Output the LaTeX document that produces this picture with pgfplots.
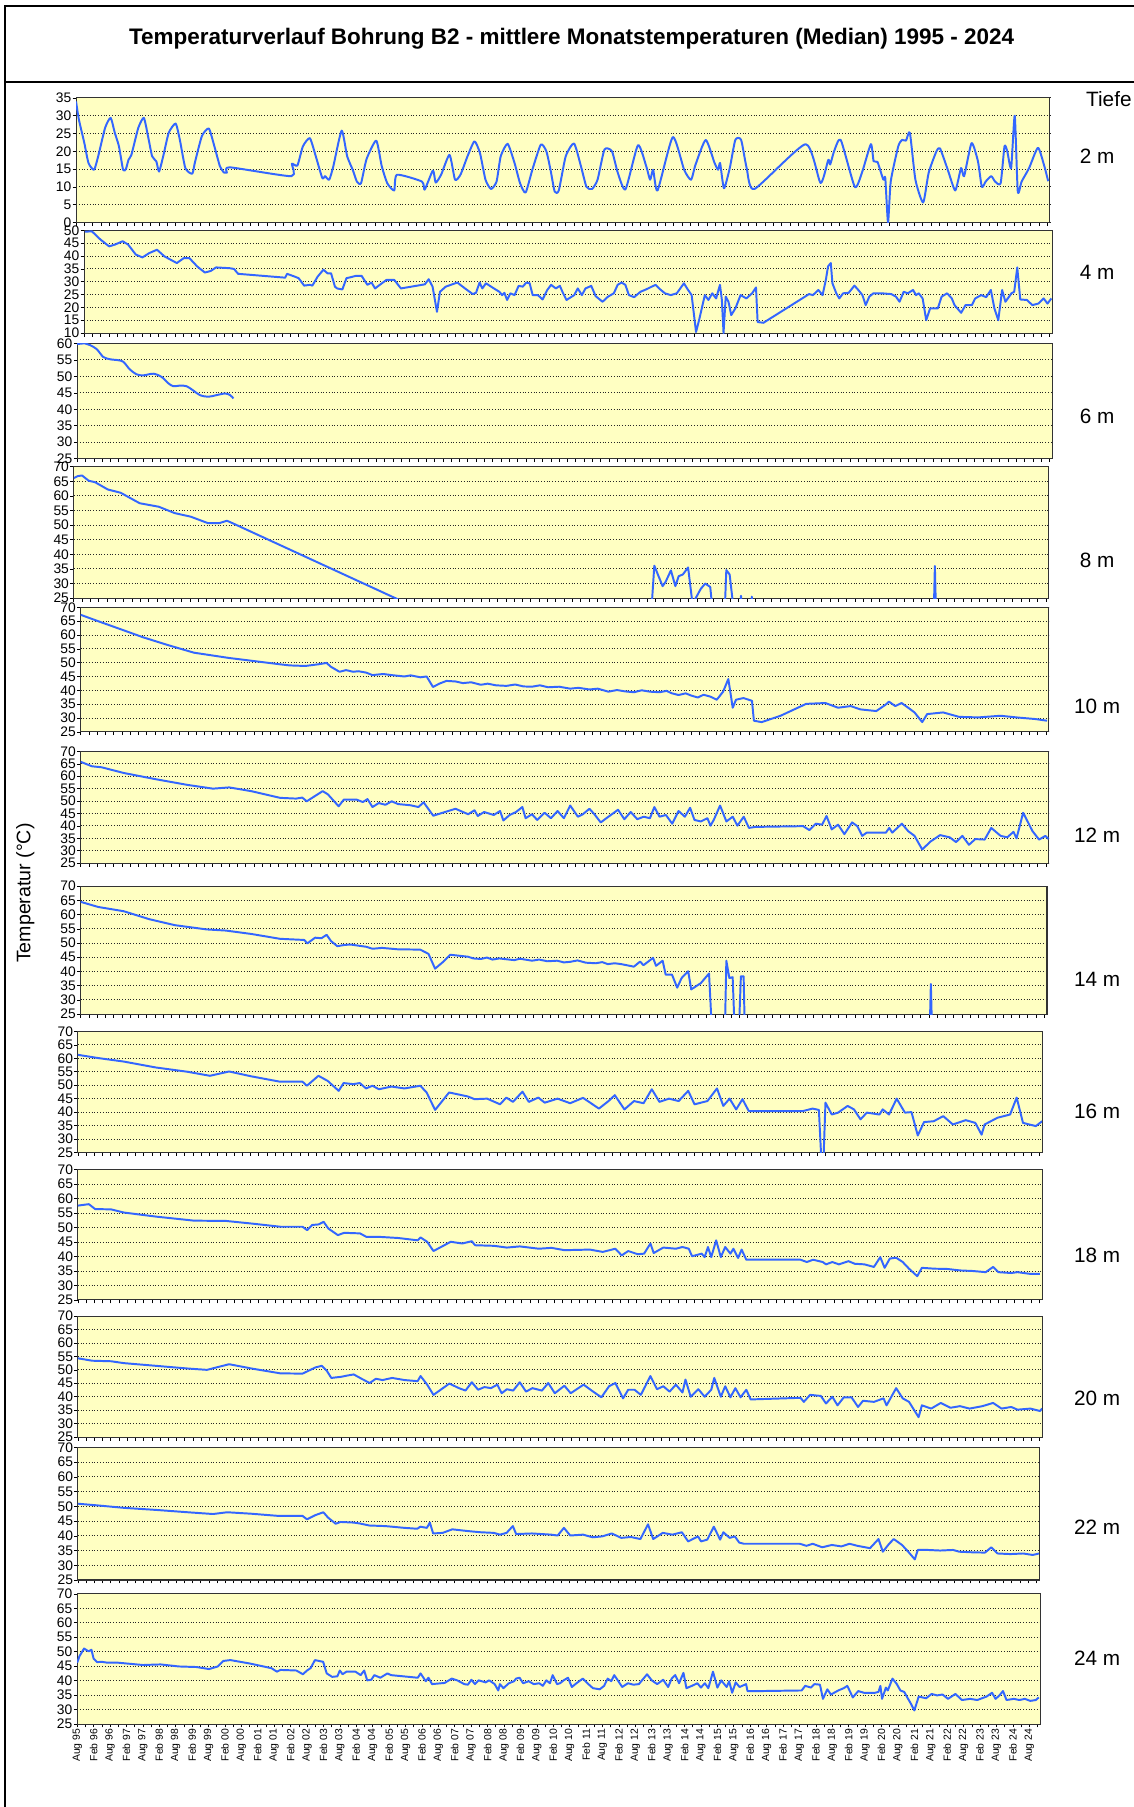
\documentclass[border=0pt]{standalone}
\usepackage{fontspec}
\setmainfont{Liberation Sans}
\usepackage{pgfplots}
\pgfplotsset{compat=1.18}
\definecolor{bgy}{RGB}{255,255,194}
\definecolor{lb}{RGB}{51,102,255}
\pgfplotsset{
 panel/.style={
  scale only axis, anchor=north west,
  xmin=0, xmax=352,
  xtick={0,6,...,348}, minor xtick={3,9,...,351}, xticklabels={},
  xtick pos=bottom, ytick pos=left,
  tick align=outside, major tick length=3pt, minor tick length=3pt,
  tick style={black, line width=0.5pt},
  ymajorgrids, grid style={dotted, line width=0.8pt, black!85},
  axis background/.style={fill=bgy},
  axis line style={black!80, line width=0.9pt},
  yticklabel style={font=\fontsize{12}{12}\selectfont, inner sep=0.5pt, xshift=-0.5pt},
  /pgf/number format/assume math mode=true,
 },
 ser/.style={lb, line width=1.7pt, line join=round, mark=none},
}
\begin{document}
\begin{tikzpicture}
\path[use as bounding box] (0pt,0pt) rectangle (984pt,-1568pt);
\draw[line width=1.6pt] (4.5pt,-1568pt) -- (4.5pt,-5.5pt) -- (984pt,-5.5pt);
\draw[line width=1.6pt] (4.5pt,-71.5pt) -- (984pt,-71.5pt);
\node[font=\fontsize{19.5}{21}\selectfont\bfseries] at (496pt,-34pt) {Temperaturverlauf Bohrung B2 - mittlere Monatstemperaturen (Median) 1995 - 2024};
\node[font=\fontsize{18}{18}\selectfont, anchor=west] at (939pt,-86pt) {Tiefe};
\node[font=\fontsize{17}{17}\selectfont, rotate=90] at (22pt,-775pt) {Temperatur (°C)};
\foreach \lab/\yy in {2 m/136, 4 m/236, 6 m/361, 8 m/486, 10 m/613, 12 m/725, 14 m/850, 16 m/964, 18 m/1089, 20 m/1213, 22 m/1325, 24 m/1439}{
 \node[font=\fontsize{18}{18}\selectfont] at (952pt,-\yy pt) {\lab};
}

% 2 m
\begin{axis}[panel, at={(66pt,-85pt)}, width=845pt, height=108pt, ymin=0, ymax=35, ytick={0,5,...,35}]
\addplot[ser, smooth, tension=0.35] coordinates {(0,34)(1,29)(3,22.3)(4.5,16.7)(6.5,14.8)(8,18.6)(10.5,26.6)(12.5,29.4)(14,25.2)(15.5,21.4)(17,14.8)(18,15)(19,17.7)(20,19)(22.5,26.6)(24.5,29.4)(26,24.3)(27.5,18.6)(29,17.2)(30,14.3)(31.5,18.6)(33.5,25.2)(36,27.8)(37.5,23.3)(39.5,15.3)(42,13.7)(43,17)(45.5,24.3)(48,26.4)(50,21.4)(52,15.8)(53.5,14)(54.5,14)(55.5,15.5)(77.8,13)(78,16.5)(80,16)(82,21.4)(84.5,23.7)(86.5,19)(89,12.5)(90,13)(91.5,12)(93,15.8)(96,25.8)(98,18.6)(100,14.8)(101.5,11.5)(103,11)(105,17.8)(108.5,23)(110.5,15.8)(112.5,11)(115,9)(116,13.4)(125,11.5)(126,9.2)(129,14.6)(130,11.2)(132,13.5)(135,19)(137,12)(139,13.5)(141.5,18.6)(144,22.8)(146,19.5)(148,12)(150,9.4)(152,11.5)(153.5,18.6)(156,22.1)(158.5,16.7)(160.5,11)(162.5,8.4)(165,15)(168,21.9)(170,20)(171.5,14.8)(173,8.7)(174.5,9)(177,18.6)(180,22.2)(182.5,15.8)(184.5,10)(186.5,9.4)(188.5,12)(191,20.5)(193.7,20)(195.8,14)(198.6,9.3)(203.1,21.7)(206.1,15.8)(207.5,12)(208.6,14.8)(210.2,9)(215.7,24)(219.8,14.8)(222.3,12)(223.9,16.2)(227.6,23.2)(230.8,16.7)(232.1,14.8)(232.8,16.7)(234.2,9.6)(236.3,15.3)(238.3,23.2)(240.4,23.2)(242.4,15.3)(245.2,9.4)(263.7,22)(269.1,11.1)(271.9,17.6)(272.6,16.3)(274,20)(276.4,23.2)(281.5,10)(284.2,14.3)(287.3,22)(288.3,17.2)(289.7,17)(291.8,12)(292.5,12.5)(293.5,0)(294.5,11.6)(297.2,21.4)(298.6,23.2)(300,23)(301.4,25.2)(303.4,12)(306.2,5.6)(308.2,14)(311,20)(312.3,20.8)(315.1,14.8)(317.8,9)(319.9,15.3)(321,13)(323.7,22.3)(326,17.2)(327.4,10)(328.8,11.5)(330.8,13)(332.2,11.5)(334.2,11)(335.6,21.4)(336.6,20)(338,15.3)(339.3,30)(340.4,8.7)(341.8,11.5)(344.5,15.3)(347.7,21)(350,15.8)(351.4,11.6)};
\end{axis}

% 4 m
\begin{axis}[panel, at={(73pt,-200pt)}, width=840pt, height=89pt, ymin=10, ymax=50, ytick={10,15,...,50}]
\addplot[ser] coordinates {(0.3,49.5)(2.8,49.7)(5.9,46.5)(9.1,43.8)(11.2,44.5)(14,45.8)(16,44.5)(18.8,40.6)(21.2,39.5)(23.7,41.2)(26.5,42.5)(29.2,39.9)(33.7,37.3)(36.2,39.2)(38.3,39.2)(41.1,36)(43.9,33.6)(46,34.2)(48,35.6)(52.9,35.3)(54.5,35)(56,33.1)(73.1,31.6)(73.8,33.1)(76.6,32)(78,31.4)(80,28.5)(82.1,28.8)(83,28.5)(84.9,32)(87,34.7)(88.5,33.3)(89.8,33.3)(91.2,28.1)(92,27.4)(93.9,27)(95.4,31.4)(97,31.8)(98.8,32.3)(100.9,32.3)(103,28.8)(104.5,29.7)(105.8,27.4)(107.5,28.8)(109.9,30.7)(112.8,30.7)(115.2,27.4)(123.9,29)(125.3,31)(126.7,28.1)(128.3,18.3)(129.4,26.1)(131.5,28.1)(135.7,29.7)(138.5,27.4)(141.3,25.2)(142.5,25.7)(143.8,29.7)(144.8,27.4)(146.1,29.4)(149,27.4)(151,26.1)(152,24.8)(152.8,25.7)(153.8,22.9)(155,25.5)(156.5,24.8)(158,28.4)(159.5,28.1)(160.8,29.7)(162,29.4)(163.1,24.8)(165,24.8)(166.7,23.1)(168.4,26.8)(169.8,28.8)(171.5,27.4)(173,28.4)(174,25.9)(175.4,22.9)(178.2,24.8)(179.5,27.4)(181,24.8)(182.3,27.4)(184.4,28.4)(186,24.4)(188.5,22.2)(190.5,24.2)(192.6,25.5)(194,28.8)(195.4,29.7)(196.8,28.8)(198.1,24.8)(200,24)(202.3,26.1)(204.3,27)(206.4,28.1)(207.8,28.8)(209.5,27)(211.2,25.5)(213.3,24.8)(215.5,25.5)(218.1,29.4)(219.5,27)(220.9,24.8)(222.5,10.4)(223.6,15)(225.7,24.8)(227,22.9)(228.4,25.5)(229.8,23.5)(231.2,28.8)(231.9,22.9)(232.5,10)(233.3,24.2)(234.3,22.2)(235.3,17)(236.8,19.6)(238.7,24.8)(240.8,23.5)(242.9,25.5)(244.3,27.8)(244.9,14.3)(247,14)(263.6,25.2)(265,24.8)(267,26.8)(268.5,24.8)(269.7,30.7)(270.5,36)(271.5,37.3)(272.1,29.4)(273.5,25.5)(274.6,23.5)(276,25.5)(278,25.7)(280.1,28.5)(281.5,26.8)(283,24.8)(284.2,20.9)(285.5,24.2)(287,25.5)(290,25.5)(293.5,25.2)(295.2,24.2)(296.5,22.2)(298,26.1)(299.5,25.5)(301.4,26.8)(302.5,24.8)(303.5,25.5)(304.9,23.5)(306.2,15)(307.6,19.6)(310.4,19.6)(311.8,24.2)(313.8,25.5)(315.5,23.5)(316.5,20.9)(318.9,17.9)(320.5,20.9)(322.8,20.9)(324,23.5)(326.2,24.8)(328,24)(329.7,26.8)(331,19.6)(332.4,15)(333.8,26.8)(335,22.2)(337.2,25.5)(338.2,26.1)(339.3,35.6)(340.4,23.1)(342.8,22.9)(344.8,20.9)(347,21.5)(348.9,23.5)(350.3,21.5)(351.7,23.5)};
\end{axis}

% 6 m
\begin{axis}[panel, at={(67pt,-298pt)}, width=846pt, height=100pt, ymin=25, ymax=60, ytick={25,30,...,60}]
\addplot[ser, smooth, tension=0.5] coordinates {(0,59.8)(2.8,60)(4.6,59.5)(7,58.3)(9.4,55.9)(11.8,55.2)(14.8,54.9)(16.7,54.4)(19,52.1)(21.5,50.6)(23.9,50.3)(27.5,50.8)(30.5,49.8)(32.9,47.9)(34.7,47)(37.1,47.2)(39.5,47)(41.9,45.7)(44.3,44.3)(47.3,43.8)(50.3,44.3)(53.4,44.8)(55.2,44.3)(56.4,43.3)};
\end{axis}

% 8 m
\begin{axis}[panel, at={(64pt,-405pt)}, width=846pt, height=114pt, ymin=25, ymax=70, ytick={25,30,...,70}]
\addplot[ser] coordinates {(0,66.1)(1.5,66.8)(3,67)(5.4,65.2)(7.7,64.7)(12.3,62.2)(16.9,61.1)(23.8,57.5)(30.7,56.3)(36.5,54.1)(42.2,52.9)(48.4,50.7)(52.6,50.7)(55.3,51.5)(57.7,50.5)(117,24.6)(130,18.9)(208.5,20)(209.6,36.1)(212.6,29.1)(213.7,30.6)(215.6,34.5)(217.2,29.1)(218.4,32.5)(219.9,33.1)(221.8,35.5)(223.4,23)(226.4,28.2)(228,30)(229.8,28.8)(230.3,24)(231,20)(235,20)(235.6,34.6)(236.8,33.1)(237.9,24)(238.5,20)(240.5,20)(240.9,25.8)(241.4,20)(244.5,20)(244.8,25.5)(245.2,20)(310.5,20)(310.9,36)(311.3,20)(352,20)};
\end{axis}

% 10 m
\begin{axis}[panel, at={(70pt,-527pt)}, width=840pt, height=108pt, ymin=25, ymax=70, ytick={25,30,...,70}]
\addplot[ser] coordinates {(0,67.3)(5.2,65.4)(14.5,62.1)(22.6,59.2)(31.9,56.3)(41.2,53.6)(53.9,51.7)(72.5,49.4)(76,49)(81.7,48.8)(86.4,49.4)(89.4,49.9)(91,48.5)(94.1,46.7)(96.5,47.3)(99.1,46.7)(101,46.9)(103.8,46.4)(106.1,45.5)(110,45.9)(113,45.5)(117.7,45)(120,45.4)(123.5,44.7)(125.8,45)(128.1,41.2)(130.4,42.4)(133,43.4)(136.3,43.2)(139,42.6)(142,42.9)(145.5,42)(148,42.4)(151,41.8)(154.8,41.6)(158,42.1)(161,41.4)(164.1,41.3)(167,41.8)(170,41.1)(174,41.3)(178,40.6)(181,40.9)(185,40.3)(188,40.6)(191.9,39.5)(195,40.1)(198,39.6)(201.2,39.3)(204,40)(207,39.5)(210.5,39.3)(213,39.8)(215,38.9)(217.4,38.3)(220,38.9)(222,38.1)(224.4,37.4)(226.5,38.4)(229,37.7)(231.3,36.6)(233.6,39.5)(235.5,44.1)(237.1,33.7)(238.3,36.6)(241,37.2)(244.1,36.2)(244.8,29)(247.6,28.5)(254.5,30.8)(263.8,35.1)(270.8,35.4)(275.4,33.7)(280,34.3)(283.5,33.1)(289.3,32.5)(292.7,34.8)(293.9,35.9)(296.2,34.3)(298.5,35.4)(300.9,33.7)(303.2,32)(306,28.5)(307.8,31.4)(313.6,32)(319.4,30.4)(326.4,30.2)(334.5,30.8)(340.3,30.2)(347.2,29.6)(351.4,29)};
\end{axis}

% 12 m
\begin{axis}[panel, at={(70pt,-652pt)}, width=840pt, height=97pt, ymin=25, ymax=70, ytick={25,30,...,70}]
\addplot[ser] coordinates {(0,65.8)(4.1,64)(7.6,63.6)(15.7,61.3)(27.3,58.8)(38.9,56.5)(48.1,55)(54,55.5)(62,54)(72.5,51.3)(78.3,51)(80.6,51.4)(82.2,49.9)(85.3,52.1)(88,54)(89.9,52.7)(93.8,47.9)(95.7,50.6)(100.3,50.6)(102.6,49.6)(104.3,50.8)(106.1,47.6)(108.4,49.2)(110.8,48.5)(113.1,49.9)(115.4,48.8)(120,48.3)(122.8,47.6)(124.7,49.5)(128.2,44.1)(131.6,45.3)(136.3,46.9)(140.9,44.7)(143.2,46.3)(144.4,44)(146.7,45.6)(150.2,44.4)(152.5,46)(153.7,42.2)(156,44.4)(158.3,45.6)(160.6,47.6)(161.8,43.1)(164.1,44.7)(166,42.4)(168.7,45.3)(171,43.1)(173.4,46)(175.7,43.1)(178,48.2)(180.8,43.7)(182.6,44.7)(185,46.9)(186.8,44.7)(189.1,41.4)(191.9,43.7)(195.4,46.5)(197.7,42.7)(200,45.6)(202.4,42.7)(204.7,43.7)(207,43.1)(208.6,47.6)(210.5,43.7)(212.8,44.4)(215.1,40.9)(217.4,46)(219.7,43.7)(221.6,47.3)(223.2,42.4)(225.5,41.8)(227.9,43.1)(229,40.1)(230.2,42.4)(232.5,48.2)(234.8,41.8)(237.1,43.7)(238.8,40.1)(241.1,43.7)(243,39.2)(245.3,39.6)(262.7,39.9)(265,38.3)(267.3,40.9)(269.6,40.5)(271.2,44)(273.1,38.6)(275.4,40.5)(277.7,36.7)(280.5,41.4)(282.4,39.9)(284.2,36)(285.8,37.3)(289.3,37.3)(292.8,37.3)(294,39.2)(295.1,37.3)(298.6,40.9)(300.9,37.9)(303.2,36)(306,30.5)(309,33.7)(312.5,36.3)(316,35.4)(318.3,33.5)(320.6,36)(323,32.4)(325.3,34.7)(328.7,34.5)(331.1,39.2)(334.5,36)(336.9,35.4)(339.2,37.6)(340.3,35)(342.7,45.3)(346.1,37.9)(348.5,34.5)(350.8,36)(352,34.7)};
\end{axis}

% 14 m
\begin{axis}[panel, at={(70pt,-769pt)}, width=838.5pt, height=111pt, ymin=25, ymax=70, ytick={25,30,...,70}]
\addplot[ser] coordinates {(0,64.5)(6.4,62.7)(15.7,61.2)(25,58.4)(34.3,56.3)(45.9,54.8)(52.9,54.4)(62.2,53.2)(72.6,51.5)(81.4,51.1)(82.6,49.9)(85.4,51.9)(87.7,51.7)(89.6,52.9)(91.2,50.7)(93.5,48.9)(95.8,49.3)(98.2,49.5)(104,48.7)(106.3,48)(109.8,48.3)(115.6,47.8)(123.7,47.7)(124.9,47.1)(126.7,46.2)(129.1,41)(131.8,43.2)(134.6,45.9)(141.1,45.2)(143,44.6)(145.8,44.4)(148,44.9)(150,44.2)(152.5,44.6)(155.1,44.3)(158,44)(160,44.5)(164.4,43.8)(167,44.2)(170,43.6)(173.6,43.8)(176,43.2)(178.3,43.4)(181,43.9)(184,43.1)(187.6,42.9)(190,43.3)(192,42.6)(194.5,42.9)(196.9,42.6)(201.5,41.7)(203.8,43.5)(205,42.2)(208.5,44.8)(209.6,42)(212,43.8)(213.1,38.9)(215.4,38.9)(217.3,34.3)(218.9,37.7)(221.3,40.1)(222.4,33.7)(225.9,35.9)(228.9,39.3)(229.9,20)(234.7,20)(235.2,43.8)(236.3,37.7)(237.5,38)(238.2,20)(239.8,20)(240.5,38.3)(241.5,38.3)(241.9,20)(309.3,20)(309.7,35.6)(310.1,20)(352,20)};
\end{axis}

% 16 m
\begin{axis}[panel, at={(67.6pt,-895pt)}, width=836.7pt, height=105pt, ymin=25, ymax=70, ytick={25,30,...,70}]
\addplot[ser] coordinates {(0,61.3)(7.4,60.1)(16.7,58.8)(28.4,56.6)(40,55)(48.2,53.5)(55.2,55.1)(63.3,53.3)(73.8,51.3)(82,51.3)(83.6,49.8)(87.8,53.5)(91.2,51.6)(95.2,47.9)(97,50.8)(100.5,50.4)(102.9,50.8)(105.2,48.8)(107.5,49.8)(109.9,48.5)(114.5,49.5)(119.2,48.8)(125,49.8)(127.3,47.3)(130.4,40.8)(135.5,47.3)(142.4,45.8)(144.8,44.8)(149.4,45)(154.1,42.9)(156.4,45.4)(158.8,43.8)(162.3,47.6)(164.6,43.8)(168.1,45.4)(170.4,43.5)(175.1,45)(179.7,43.3)(184.4,45.3)(190.2,41.3)(193.7,44.1)(196,46.3)(199.5,41)(203,44.1)(206.5,43.3)(209.5,48.5)(212.3,43.8)(215.8,45)(219.3,44.1)(222.8,47.9)(225.1,42.9)(229.8,44.1)(233.3,48.8)(235.6,42.3)(237.9,45)(240.3,41)(242.6,44.8)(244.9,40.4)(247,40.4)(264.7,40.4)(268.2,41.3)(270.5,40.8)(271.5,20)(272.1,20)(272.9,43.5)(275.2,39.1)(277.5,39.8)(281,42.3)(283.3,41)(285.7,37.3)(288,39.8)(292.6,39.1)(293.8,41)(296.1,39.1)(298.9,45)(301.9,39.8)(304.3,40)(306.6,31.3)(308.9,36.3)(312.4,36.6)(315.9,38.5)(319.4,35.4)(324.1,37)(327.6,36)(329.9,31.6)(331,35.4)(335.7,37.9)(340.3,39.1)(342.7,45.4)(345,36)(347.3,35.4)(349.7,34.8)(352,36.6)};
\end{axis}

% 18 m
\begin{axis}[panel, at={(67.6pt,-1015pt)}, width=836.7pt, height=113pt, ymin=25, ymax=70, ytick={25,30,...,70}]
\addplot[ser] coordinates {(0,57.6)(4,58.1)(6.3,56.4)(12.1,56.3)(16.8,55.2)(28.5,53.8)(42.4,52.4)(54.1,52.3)(63.4,51.4)(73.9,50.3)(82,50.3)(83.7,49.1)(85.5,50.9)(87.9,51.1)(89.7,52)(91.4,49.7)(94.9,47.4)(97.2,48.2)(103,48)(105.3,46.8)(110,46.8)(117,46.4)(124,45.6)(125.1,46.6)(127.5,45.1)(129.8,41.9)(136.1,45.1)(140.3,44.5)(143.8,45.3)(145,43.9)(151.9,43.7)(156.6,43.1)(161.3,43.5)(168.3,42.7)(172.9,43)(177.6,42.2)(186.9,42.4)(191.6,41.6)(196.2,42.7)(198.5,40.4)(200.9,41.9)(204.4,40.8)(206.7,41)(209,44.5)(210.2,41.2)(213.7,43.1)(218.3,42.7)(220.7,43.3)(223,42.7)(224.2,40.1)(227.7,41)(228.8,39.8)(230,43.3)(231.2,39.8)(233,45.6)(234.7,39.8)(236.3,43.3)(238.2,41)(239.3,42.7)(241,39.5)(242.3,42.4)(244,38.9)(246.3,38.9)(263.8,38.9)(266.1,38.1)(268.4,38.9)(271.9,38.1)(273.1,37.3)(275.4,38.1)(277.8,37.3)(281.3,38.4)(283.6,37.5)(287.1,37.3)(290.6,36.4)(292.9,39.8)(294.5,36.1)(296.4,39.3)(298.7,39.6)(301.1,38.1)(303.4,35.8)(306.4,33.2)(308.1,36.1)(312.7,35.8)(317.4,35.7)(322,35.2)(326.7,35)(331.4,34.6)(334.1,36.4)(336,34.6)(340.7,34.3)(343,34.6)(347.7,34)(351.2,34)};
\end{axis}

% 20 m
\begin{axis}[panel, at={(67.6pt,-1142pt)}, width=836.7pt, height=105pt, ymin=25, ymax=70, ytick={25,30,...,70}]
\addplot[ser] coordinates {(0,54.3)(5.2,53.4)(12.1,53.2)(16.8,52.5)(28.5,51.5)(40.1,50.5)(47.1,50)(55.2,52.1)(63.4,50.5)(73.9,48.7)(82,48.6)(86.7,50.9)(89,51.5)(90.9,49.6)(92.5,47)(96,47.4)(98.4,47.9)(100.7,48.3)(103,47)(106.5,45.1)(108.8,46.7)(111.2,46.2)(114.7,47)(119.3,46.2)(124,45.8)(125.1,47.7)(127.5,44.5)(129.8,40.7)(135.6,44.9)(139.1,43.2)(141.5,42.3)(143.8,45.4)(146.1,42.6)(148.4,43.6)(150.8,43.2)(153.1,44.5)(154.7,41.3)(156.6,42.8)(158.9,42.3)(161.3,45.4)(163.6,41.9)(165.9,43.2)(169.4,42.3)(171.7,45.1)(174.1,41.3)(177.6,44.1)(179.9,41.3)(184.6,44.5)(188.1,41.9)(191.1,39.8)(193.9,43.9)(196.2,45.1)(199,39.4)(200.9,42.6)(203.2,42.6)(205.5,40.7)(209,47.7)(211.4,42.8)(213.7,43.9)(216,41.9)(218.3,44.5)(220.7,41.6)(221.8,46.4)(223.7,40)(226.5,42.8)(228.8,40)(231.2,42.6)(232.3,47)(234.7,40)(236.3,43.9)(238.2,39.8)(240,43.2)(241.9,39.8)(244,42.6)(245.6,39)(263.8,39.6)(265,38.1)(267.3,40.7)(271.2,40.3)(273.1,37.5)(275.4,40)(277.3,36.8)(279.6,39.8)(282.4,39.8)(284.8,36.2)(286.6,38.5)(290.6,38.1)(294.1,39.4)(295.2,36.8)(298.7,43.2)(301.1,39.4)(303.4,38.1)(306.9,32.4)(308.1,36.8)(311.5,35.6)(315,37.7)(318.5,35.9)(322,36.5)(325.5,35.6)(330.2,36.5)(334.1,37.7)(337.2,35.6)(340.7,36.2)(343,35.2)(347.7,35.6)(351.2,34.7)(352,35.6)};
\end{axis}

% 22 m
\begin{axis}[panel, at={(67.6pt,-1256pt)}, width=834pt, height=115pt, ymin=25, ymax=70, ytick={25,30,...,70}]
\addplot[ser] coordinates {(0,50.9)(7.5,50.3)(16.8,49.5)(28.5,48.8)(40.2,48)(49.5,47.4)(54.7,48)(63.5,47.5)(72.9,46.8)(82.2,46.8)(83.9,45.6)(86.9,47)(89.9,48)(91.6,46.2)(94.4,44.1)(96.2,44.7)(100.9,44.5)(103.2,44.2)(106.7,43.5)(112.6,43.3)(119.6,42.7)(124.3,42.4)(125.4,43.1)(127.8,42.7)(128.9,44.5)(130.1,40.8)(133.6,41)(137.1,42.2)(142.9,41.6)(147.6,41.2)(152.3,41)(154.6,40.4)(157,41)(159.3,43.3)(160.5,40.6)(166.3,40.8)(173.3,40.4)(175.7,40.1)(178,42.7)(180.3,40.1)(185,40.4)(188.5,39.5)(192,39.8)(195.5,40.8)(199,39.3)(202.5,39.6)(206,38.9)(208.8,43.9)(210.7,38.9)(214.2,41)(217.7,40.4)(221.2,41.2)(223.5,38.1)(227.1,39.8)(228.2,38.1)(230.5,38.7)(232.9,43.1)(235.2,38.7)(236.4,41.2)(238.7,39.3)(240.6,39.8)(242.2,37.7)(243.9,37.3)(264.4,37.3)(266.8,36.6)(269.1,37.3)(272.6,36.1)(276.1,36.9)(279.6,36.4)(282.6,37.3)(285.5,36.6)(290.1,35.8)(293.2,38.9)(294.8,34.6)(297.1,37.3)(298.8,38.9)(301.8,36.9)(304.1,34.6)(306.5,32)(307.6,35.2)(311.2,35.2)(315.8,35)(320.5,35.2)(322.8,34.6)(327.5,34.4)(332.2,34.3)(334.5,36.1)(336.8,34)(341.5,33.8)(346.2,34)(349.7,33.5)(352,34)};
\end{axis}

% 24 m
\begin{axis}[panel, at={(67pt,-1383pt)}, width=835.6pt, height=113pt, ymin=25, ymax=70, ytick={25,30,...,70},
 xticklabels={Aug 95,Feb 96,Aug 96,Feb 97,Aug 97,Feb 98,Aug 98,Feb 99,Aug 99,Feb 00,Aug 00,Feb 01,Aug 01,Feb 02,Aug 02,Feb 03,Aug 03,Feb 04,Aug 04,Feb 05,Aug 05,Feb 06,Aug 06,Feb 07,Aug 07,Feb 08,Aug 08,Feb 09,Aug 09,Feb 10,Aug 10,Feb 11,Aug 11,Feb 12,Aug 12,Feb 13,Aug 13,Feb 14,Aug 14,Feb 15,Aug 15,Feb 16,Aug 16,Feb 17,Aug 17,Feb 18,Aug 18,Feb 19,Aug 19,Feb 20,Aug 20,Feb 21,Aug 21,Feb 22,Aug 22,Feb 23,Aug 23,Feb 24,Aug 24},
 xticklabel style={rotate=90, anchor=east, font=\fontsize{9}{9}\selectfont, inner sep=1pt}]
\addplot[ser] coordinates {(0,46.2)(0.8,48.4)(2.5,51.1)(4.2,50.1)(5.2,50.7)(6,47.6)(7.3,46.4)(9,46.5)(11,46.2)(14.9,46.2)(24,45.4)(30.5,45.6)(37.1,44.9)(43.6,44.7)(48.2,44)(51.4,44.9)(53.4,46.8)(56,47.1)(63.2,45.9)(71,44.3)(73,43.1)(74.3,43.7)(80.1,43.5)(82.5,42.2)(84,43.5)(85.3,44.3)(86.9,47.1)(89.9,46.5)(91.2,42.5)(93.2,41.3)(95.1,41.5)(96,43.5)(97,42.2)(98.4,43.1)(101.7,43.1)(103.6,41.9)(104.9,43.5)(106,40.1)(107.5,40.3)(108.6,41.9)(110.8,41)(113.4,42.5)(114.7,41.9)(124.5,41)(125.5,42.5)(127.4,39.8)(128.4,41)(129.7,38.8)(134.3,39.2)(136.9,40.7)(138.9,40.1)(141.5,38.8)(142.8,38.6)(144.1,40.3)(145.4,38.8)(146.7,40.1)(149.3,39.4)(150.6,40.1)(152.6,38.8)(153.9,36.6)(154.5,38.8)(155.8,37.4)(157.8,39.1)(159.7,39.8)(160.4,40.7)(161.7,41)(163,39.1)(165,39.8)(166.9,38.8)(168.9,39.1)(170.2,38.2)(171.5,40.1)(172.8,39.1)(173.8,41.9)(175.4,38.8)(176.5,39.1)(177.8,40.1)(179.4,41)(180.8,37.8)(182.5,39.1)(184.8,40.7)(186.5,39.1)(188.5,37.4)(191,37)(192.6,38.2)(193.9,40.7)(195.2,39.8)(196.3,41.9)(197.6,40.1)(199.2,37.8)(201.3,39.1)(203.3,38.6)(205.3,38.8)(208.3,42.2)(210,40.1)(212,38.8)(214.2,40.3)(216,37.8)(217.3,40.7)(218.6,41.9)(220,39.1)(221.6,42.7)(222.7,37.4)(224.7,38.2)(226.7,39.1)(228,37.6)(229.4,39.1)(230.7,37.4)(232.4,43.1)(234,37.6)(235.4,40.1)(237.4,37.8)(238.3,39.8)(239.4,35.8)(240.7,39.4)(242.1,37.8)(244.5,38.8)(245,36.4)(250.1,36.4)(264.8,36.6)(266.1,38.2)(268.2,37.6)(269.5,38.8)(271.5,38.6)(272.6,33.7)(274.2,37)(275.5,35.2)(278.2,36.6)(280.2,37.4)(281.5,38.2)(283.5,34.2)(285.5,36.4)(287.6,35.8)(291.6,35.8)(292.9,36.1)(293.6,38.2)(294.2,33.7)(295.6,37.6)(296.3,36.6)(298,40.7)(299.6,38.8)(300.9,36.6)(302.3,36.1)(303.6,33.9)(304.7,32.1)(306,29.7)(307.6,34.5)(310.3,33.9)(312.3,35.4)(314.3,34.9)(316.3,35.2)(318.3,33.7)(321,35.4)(323.4,33.3)(326.4,33.7)(329,33.3)(332.4,34.5)(334.4,35.8)(335.7,33.7)(337.1,34.9)(338.4,36.4)(339.7,33.3)(342.4,33.7)(344.4,33.3)(346.4,33.7)(348.4,33)(350.4,33.3)(351.5,34.2)};
\end{axis}
\end{tikzpicture}
\end{document}
